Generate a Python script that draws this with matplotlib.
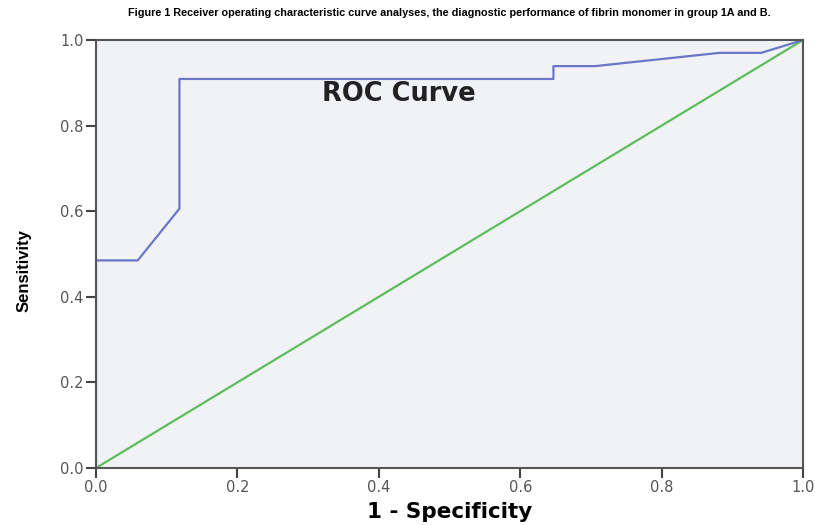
import matplotlib.pyplot as plt

# ROC curve points (1 - specificity, sensitivity)
fpr = [0.0, 0.0, 0.059, 0.118, 0.118, 0.647, 0.647, 0.706, 0.882, 0.941, 1.0]
tpr = [0.0, 0.485, 0.485, 0.606, 0.909, 0.909, 0.939, 0.939, 0.970, 0.970, 1.0]
ref_x = [0.0, 1.0]
ref_y = [0.0, 1.0]
ticks = [0.0, 0.2, 0.4, 0.6, 0.8, 1.0]

plt.rcParams['font.family'] = ['Liberation Sans', 'DejaVu Sans']

fig = plt.figure(figsize=(8.15, 5.25), dpi=100)
ax = fig.add_axes([0.1178, 0.1086, 0.8675, 0.8152])
ax.set_facecolor('#f1f2f5')

ax.plot(ref_x, ref_y, color='#5cbd5c', linewidth=1.6)
ax.plot(fpr, tpr, color='#6b76c6', linewidth=1.6)

ax.set_xlim(0, 1)
ax.set_ylim(0, 1)
ax.set_xticks(ticks)
ax.set_yticks(ticks)
ax.set_xticklabels([f'{t:.1f}' for t in ticks], family='DejaVu Sans')
ax.set_yticklabels([f'{t:.1f}' for t in ticks], family='DejaVu Sans')
ax.tick_params(length=7, width=1.5, color='#444444', labelsize=10.5,
               labelcolor='#555555', pad=2)
for s in ax.spines.values():
    s.set_color('#555555')
    s.set_linewidth(1.5)

ax.text(0.428, 0.875, 'ROC Curve', fontsize=18.5, fontweight='bold',
        color='#222222', ha='center', va='center', family='DejaVu Sans')

ax.set_xlabel('1 - Specificity', fontsize=15.5, fontweight='bold', labelpad=5,
              family='DejaVu Sans')
fig.text(0.029, 0.485, 'Sensitivity', rotation=90, fontsize=12,
         fontweight='bold', ha='center', va='center')

fig.text(0.157, 0.975, 'Figure 1 Receiver operating characteristic curve analyses, '
         'the diagnostic performance of fibrin monomer in group 1A and B.',
         fontsize=7.8, fontweight='bold', ha='left', va='center')

fig.savefig('out.png', dpi=100)
